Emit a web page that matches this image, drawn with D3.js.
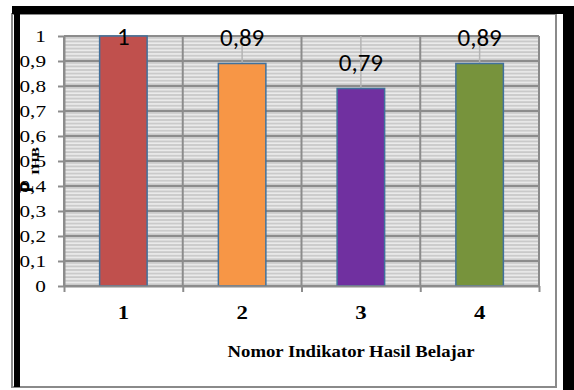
<!DOCTYPE html>
<html>
<head>
<meta charset="utf-8">
<script src="https://cdn.jsdelivr.net/npm/d3@7"></script>
<style>
  body { margin: 0; background: #fff; }
  svg { display: block; }
</style>
</head>
<body>
<div id="chartWrapper"></div>
<script>
// data
const categories = ["1", "2", "3", "4"];
const values = [1, 0.89, 0.79, 0.89];
const valueLabels = ["1", "0,89", "0,79", "0,89"];
const barColors = ["#C0504D", "#F79646", "#7030A0", "#77933C"];
const yTicks = [0, 0.1, 0.2, 0.3, 0.4, 0.5, 0.6, 0.7, 0.8, 0.9, 1];
const yTickLabels = ["0", "0,1", "0,2", "0,3", "0,4", "0,5", "0,6", "0,7", "0,8", "0,9", "1"];
const xTitle = "Nomor Indikator Hasil Belajar";

const W = 574, H = 390;
const plot = {left: 64, right: 539, top: 36, bottom: 286};
const serif = "'Liberation Serif'";
const sans = "'Carlito'";
const gridColor = "#8c8c8c";

let svg = d3.select("#chartWrapper")
  .append("svg")
  .attr("width", W)
  .attr("height", H);

svg.append("rect").attr("width", W).attr("height", H).attr("fill", "#fff");

// chart area
svg.append("rect")
  .attr("x", 12).attr("y", 14)
  .attr("width", 544).attr("height", 373)
  .attr("fill", "#fff")
  .attr("stroke", "#8a8a8a")
  .attr("stroke-width", 2);

// striped plot background
let defs = svg.append("defs");
let pat = defs.append("pattern")
  .attr("id", "stripes")
  .attr("patternUnits", "userSpaceOnUse")
  .attr("width", 8)
  .attr("height", 25 / 7)
  .attr("y", plot.top);
pat.append("rect").attr("width", 8).attr("height", 25 / 7).attr("fill", "#ebebeb");
pat.append("rect").attr("y", 1).attr("width", 8).attr("height", 1.8).attr("fill", "#c8c8c8");

// scales
let x = d3.scaleBand().domain(categories).range([plot.left, plot.right]).padding(0);
let y = d3.scaleLinear().domain([0, 1]).range([plot.bottom, plot.top]);
let xEdge = d3.scaleLinear().domain([0, 4]).range([plot.left, plot.right]);

let g = svg.append("g").attr("class", "plot");

g.append("rect")
  .attr("x", plot.left).attr("y", plot.top)
  .attr("width", plot.right - plot.left)
  .attr("height", plot.bottom - plot.top)
  .attr("fill", "url(#stripes)");

// horizontal gridlines
g.selectAll(".hgrid")
  .data(yTicks)
  .enter().append("line")
  .attr("class", "hgrid")
  .attr("x1", plot.left).attr("x2", plot.right)
  .attr("y1", d => y(d)).attr("y2", d => y(d))
  .attr("stroke", gridColor)
  .attr("stroke-width", 2);

// vertical gridlines: category edges and centres
let halfSteps = d3.range(0, 4.5, 0.5);
g.selectAll(".vgrid")
  .data(halfSteps)
  .enter().append("line")
  .attr("class", "vgrid")
  .attr("x1", d => xEdge(d)).attr("x2", d => xEdge(d))
  .attr("y1", plot.top).attr("y2", plot.bottom)
  .attr("stroke", d => d % 1 === 0 ? gridColor : "#b4b4b4")
  .attr("stroke-width", d => d % 1 === 0 ? 2 : 1.5);

// bars
let barW = x.bandwidth() * 0.4;
g.selectAll(".bar")
  .data(values)
  .enter().append("rect")
  .attr("class", "bar")
  .attr("x", (d, i) => x(categories[i]) + (x.bandwidth() - barW) / 2)
  .attr("y", d => y(d))
  .attr("width", barW)
  .attr("height", d => y(0) - y(d))
  .attr("fill", (d, i) => barColors[i])
  .attr("stroke", "#41719C")
  .attr("stroke-width", 1.5);

// y axis
let yAxis = svg.append("g")
  .attr("transform", "translate(" + plot.left + ",0)")
  .call(d3.axisLeft(y).tickValues(yTicks).tickFormat((d, i) => yTickLabels[i]).tickSize(6).tickSizeOuter(0));
yAxis.select(".domain").attr("stroke", gridColor).attr("stroke-width", 2);
yAxis.selectAll(".tick line").attr("stroke", gridColor).attr("stroke-width", 2);
yAxis.selectAll(".tick text")
  .attr("x", 0).attr("dy", null)
  .attr("dominant-baseline", "central")
  .attr("transform", "translate(-18,0) scale(1.25,1)")
  .style("font-family", serif)
  .style("font-size", "17px")
  .attr("fill", "#000");

// x axis: ticks on the category edges
let xAxis = svg.append("g")
  .attr("transform", "translate(0," + plot.bottom + ")")
  .call(d3.axisBottom(xEdge).tickValues([0, 1, 2, 3, 4]).tickFormat("").tickSize(6).tickSizeOuter(0));
xAxis.select(".domain").attr("stroke", gridColor).attr("stroke-width", 2);
xAxis.selectAll(".tick line").attr("stroke", gridColor).attr("stroke-width", 2);

// x category labels
let xLabels = svg.append("g")
  .attr("transform", "translate(0," + plot.bottom + ")")
  .call(d3.axisBottom(x).tickSize(0));
xLabels.select(".domain").remove();
xLabels.selectAll(".tick text")
  .attr("y", 0).attr("dy", null)
  .attr("transform", "translate(0,33) scale(1.2,1)")
  .style("font-family", serif)
  .style("font-size", "19px")
  .style("font-weight", "bold")
  .attr("fill", "#000");

// value labels
svg.append("g").selectAll(".vlabel")
  .data(values)
  .enter().append("text")
  .attr("class", "vlabel")
  .attr("x", (d, i) => x(categories[i]) + x.bandwidth() / 2)
  .attr("y", d => Math.max(y(d) - 18, 45))
  .attr("text-anchor", "middle")
  .style("font-family", sans)
  .style("font-size", "25px")
  .attr("fill", "#000")
  .text((d, i) => valueLabels[i]);

// axis titles
svg.append("text")
  .attr("transform", "translate(351,357) scale(1.1,1)")
  .attr("text-anchor", "middle")
  .style("font-family", serif)
  .style("font-size", "17px")
  .style("font-weight", "bold")
  .text(xTitle);

svg.append("text")
  .attr("transform", "translate(33,193) rotate(-90)")
  .style("font-family", serif)
  .style("font-size", "19px")
  .style("font-weight", "bold")
  .text("P");
svg.append("text")
  .attr("transform", "translate(39,175) rotate(-90)")
  .attr("textLength", 28)
  .attr("lengthAdjust", "spacingAndGlyphs")
  .style("font-family", serif)
  .style("font-size", "11px")
  .style("font-weight", "bold")
  .text("IHB");

// black page borders
svg.append("rect").attr("x", 12).attr("y", 6).attr("width", 562).attr("height", 8).attr("fill", "#000");
svg.append("rect").attr("x", 14).attr("y", 14).attr("width", 6).attr("height", 373).attr("fill", "#000");
svg.append("rect").attr("x", 563).attr("y", 6).attr("width", 11).attr("height", 384).attr("fill", "#000");
</script>
</body>
</html>
